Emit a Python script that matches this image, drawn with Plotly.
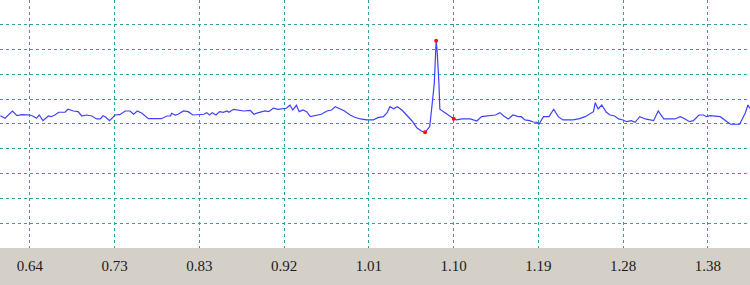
import plotly.graph_objects as go

# time (s) and amplitude (mV)
t = [0.611, 0.616, 0.624, 0.629, 0.634, 0.643, 0.646, 0.650, 0.653, 0.657, 0.663, 0.666, 0.670, 0.674,
     0.681, 0.684, 0.690, 0.695, 0.699, 0.704, 0.710, 0.715, 0.719, 0.722, 0.725, 0.729, 0.735, 0.740,
     0.746, 0.751, 0.755, 0.759, 0.764, 0.771, 0.785, 0.791, 0.795, 0.796, 0.800, 0.803, 0.809, 0.814,
     0.819, 0.827, 0.831, 0.834, 0.837, 0.840, 0.844, 0.848, 0.852, 0.856, 0.858, 0.863, 0.868, 0.874,
     0.881, 0.885, 0.890, 0.897, 0.901, 0.906, 0.911, 0.917, 0.920, 0.924, 0.927, 0.931, 0.934, 0.938,
     0.942, 0.946, 0.951, 0.958, 0.964, 0.969, 0.973, 0.978, 0.983, 0.989, 0.994, 1.000, 1.007, 1.014,
     1.019, 1.025, 1.029, 1.032, 1.036, 1.040, 1.045, 1.050, 1.056, 1.061, 1.066, 1.070, 1.074, 1.075,
     1.077, 1.080, 1.082, 1.083, 1.085, 1.086, 1.090, 1.095, 1.101, 1.104, 1.110, 1.119, 1.126, 1.131,
     1.138, 1.146, 1.151, 1.155, 1.160, 1.165, 1.171, 1.174, 1.178, 1.183, 1.187, 1.191, 1.193, 1.198,
     1.204, 1.209, 1.214, 1.219, 1.230, 1.237, 1.243, 1.248, 1.252, 1.254, 1.257, 1.261, 1.266, 1.270,
     1.275, 1.279, 1.284, 1.288, 1.293, 1.297, 1.302, 1.308, 1.317, 1.322, 1.328, 1.340, 1.346, 1.351,
     1.356, 1.360, 1.366, 1.371, 1.374, 1.378, 1.389, 1.400, 1.410, 1.416, 1.419, 1.421]
amp = [0.167, 0.115, 0.262, 0.167, 0.188, 0.181, 0.161, 0.115, 0.181, 0.067, 0.161, 0.147, 0.181, 0.236,
       0.236, 0.296, 0.262, 0.248, 0.161, 0.181, 0.161, 0.101, 0.101, 0.167, 0.135, 0.067, 0.181, 0.188,
       0.262, 0.262, 0.196, 0.262, 0.216, 0.107, 0.107, 0.161, 0.161, 0.216, 0.181, 0.196, 0.262, 0.248,
       0.181, 0.181, 0.196, 0.228, 0.181, 0.228, 0.181, 0.248, 0.236, 0.262, 0.236, 0.296, 0.282, 0.262,
       0.276, 0.196, 0.228, 0.262, 0.248, 0.317, 0.296, 0.317, 0.317, 0.377, 0.282, 0.377, 0.248, 0.282,
       0.248, 0.147, 0.167, 0.196, 0.262, 0.282, 0.349, 0.302, 0.262, 0.181, 0.135, 0.101, 0.081, 0.081,
       0.127, 0.147, 0.228, 0.349, 0.308, 0.349, 0.282, 0.181, 0.060, -0.075, -0.141, -0.167, -0.087, -0.054,
       0.282, 0.821, 1.679, 1.492, 0.821, 0.296, 0.248, 0.181, 0.107, 0.081, 0.101, 0.101, 0.060, 0.147,
       0.161, 0.181, 0.228, 0.161, 0.101, 0.181, 0.147, 0.147, 0.081, 0.067, 0.040, 0.034, -0.006, 0.147,
       0.147, 0.296, 0.147, 0.081, 0.081, 0.107, 0.147, 0.196, 0.248, 0.429, 0.302, 0.383, 0.236, 0.181,
       0.161, 0.101, 0.081, 0.046, 0.067, 0.034, 0.147, 0.101, 0.067, 0.262, 0.101, 0.101, 0.147, 0.101,
       0.046, 0.067, 0.181, 0.181, 0.147, 0.167, 0.147, -0.006, -0.006, 0.216, 0.383, 0.317]

# marked points (Q, R, S)
mark_t = [1.070, 1.082, 1.101]
mark_amp = [-0.167, 1.679, 0.107]

# x ticks
tick_vals = [0.643, 0.7346, 0.8262, 0.9178, 1.0094, 1.101, 1.1926, 1.2842, 1.3758]
tick_text = ["0.64", "0.73", "0.83", "0.92", "1.01", "1.10", "1.19", "1.28", "1.38"]

x_range = [0.6106, 1.4212]
y_range = [-2.5, 2.499]

band = 37 / 285

fig = go.Figure()
fig.add_trace(go.Scatter(x=t, y=amp, mode="lines",
                         line=dict(color="#4040ff", width=1.2), hoverinfo="skip"))
fig.add_trace(go.Scatter(x=mark_t, y=mark_amp, mode="markers",
                         marker=dict(color="#ff1010", size=4), hoverinfo="skip"))

fig.add_shape(type="rect", xref="paper", yref="paper", x0=0, x1=1, y0=0, y1=band,
              fillcolor="#d4d0c8", line=dict(width=0), layer="below")

fig.update_layout(
    width=750, height=285,
    margin=dict(l=0, r=0, t=0, b=0),
    paper_bgcolor="white", plot_bgcolor="white",
    showlegend=False,
    xaxis=dict(range=x_range, tickvals=tick_vals, ticktext=tick_text,
               showgrid=True, gridcolor="#2aa596", griddash="dot", gridwidth=1,
               zeroline=False, showline=False, ticks="", ticklabelstandoff=7,
               tickfont=dict(family="Liberation Serif", size=15, color="#1a1a1a")),
    yaxis=dict(range=y_range, tick0=0, dtick=0.5, domain=[band, 1],
               showgrid=True, gridcolor="#2aa596", griddash="dot", gridwidth=1,
               zeroline=False, showline=False, showticklabels=False, ticks=""),
)

fig.write_html("out.html")
